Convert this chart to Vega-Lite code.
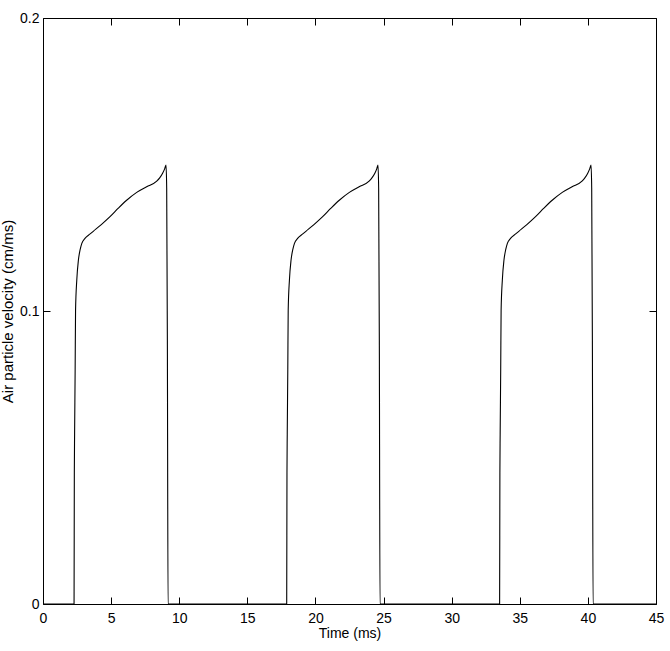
{
  "$schema": "https://vega.github.io/schema/vega-lite/v6.json",
  "width": 613,
  "height": 586,
  "autosize": {"type": "none"},
  "padding": {"left": 43, "top": 18, "right": 14, "bottom": 47},
  "background": "white",
  "config": {
    "view": {"stroke": "black", "strokeWidth": 1},
    "font": "Liberation Sans",
    "axis": {
      "domain": false,
      "tickColor": "black",
      "tickWidth": 1,
      "tickSize": 7,
      "offset": -7,
      "grid": false,
      "labelFont": "Liberation Sans",
      "labelFontSize": 14,
      "labelColor": "black",
      "titleFont": "Liberation Sans",
      "titleFontSize": 14,
      "titleFontWeight": "normal",
      "titleColor": "black"
    }
  },
  "data": {
    "values": [
      {"i": 0, "t": 0, "v": 0},
      {"i": 1, "t": 2.28, "v": 0},
      {"i": 2, "t": 2.30, "v": 0.045},
      {"i": 3, "t": 2.32, "v": 0.058},
      {"i": 4, "t": 2.36, "v": 0.080},
      {"i": 5, "t": 2.39, "v": 0.1003},
      {"i": 6, "t": 2.48, "v": 0.1106},
      {"i": 7, "t": 2.60, "v": 0.1174},
      {"i": 8, "t": 2.73, "v": 0.1210},
      {"i": 9, "t": 2.85, "v": 0.1231},
      {"i": 10, "t": 3.08, "v": 0.1248},
      {"i": 11, "t": 3.46, "v": 0.1263},
      {"i": 12, "t": 3.69, "v": 0.1272},
      {"i": 13, "t": 4.28, "v": 0.1295},
      {"i": 14, "t": 4.92, "v": 0.1322},
      {"i": 15, "t": 5.53, "v": 0.1351},
      {"i": 16, "t": 6.14, "v": 0.1378},
      {"i": 17, "t": 6.88, "v": 0.1405},
      {"i": 18, "t": 7.61, "v": 0.1424},
      {"i": 19, "t": 8.35, "v": 0.1443},
      {"i": 20, "t": 8.58, "v": 0.1455},
      {"i": 21, "t": 8.78, "v": 0.1470},
      {"i": 22, "t": 8.93, "v": 0.1485},
      {"i": 23, "t": 9.03, "v": 0.1498},
      {"i": 24, "t": 9.08, "v": 0.1420},
      {"i": 25, "t": 9.13, "v": 0.0900},
      {"i": 26, "t": 9.18, "v": 0},
      {"i": 27, "t": 17.89, "v": 0},
      {"i": 28, "t": 17.91, "v": 0.045},
      {"i": 29, "t": 17.93, "v": 0.058},
      {"i": 30, "t": 17.97, "v": 0.080},
      {"i": 31, "t": 18.00, "v": 0.1003},
      {"i": 32, "t": 18.09, "v": 0.1106},
      {"i": 33, "t": 18.21, "v": 0.1174},
      {"i": 34, "t": 18.34, "v": 0.1210},
      {"i": 35, "t": 18.46, "v": 0.1231},
      {"i": 36, "t": 18.69, "v": 0.1248},
      {"i": 37, "t": 19.07, "v": 0.1263},
      {"i": 38, "t": 19.30, "v": 0.1272},
      {"i": 39, "t": 19.89, "v": 0.1295},
      {"i": 40, "t": 20.53, "v": 0.1322},
      {"i": 41, "t": 21.14, "v": 0.1351},
      {"i": 42, "t": 21.75, "v": 0.1378},
      {"i": 43, "t": 22.49, "v": 0.1405},
      {"i": 44, "t": 23.21, "v": 0.1424},
      {"i": 45, "t": 23.94, "v": 0.1443},
      {"i": 46, "t": 24.16, "v": 0.1455},
      {"i": 47, "t": 24.36, "v": 0.1470},
      {"i": 48, "t": 24.50, "v": 0.1485},
      {"i": 49, "t": 24.59, "v": 0.1498},
      {"i": 50, "t": 24.64, "v": 0.1420},
      {"i": 51, "t": 24.69, "v": 0.0900},
      {"i": 52, "t": 24.74, "v": 0},
      {"i": 53, "t": 33.52, "v": 0},
      {"i": 54, "t": 33.54, "v": 0.045},
      {"i": 55, "t": 33.56, "v": 0.058},
      {"i": 56, "t": 33.60, "v": 0.080},
      {"i": 57, "t": 33.63, "v": 0.1003},
      {"i": 58, "t": 33.72, "v": 0.1106},
      {"i": 59, "t": 33.84, "v": 0.1174},
      {"i": 60, "t": 33.97, "v": 0.1210},
      {"i": 61, "t": 34.09, "v": 0.1231},
      {"i": 62, "t": 34.32, "v": 0.1248},
      {"i": 63, "t": 34.70, "v": 0.1263},
      {"i": 64, "t": 34.93, "v": 0.1272},
      {"i": 65, "t": 35.52, "v": 0.1295},
      {"i": 66, "t": 36.16, "v": 0.1322},
      {"i": 67, "t": 36.77, "v": 0.1351},
      {"i": 68, "t": 37.38, "v": 0.1378},
      {"i": 69, "t": 38.12, "v": 0.1405},
      {"i": 70, "t": 38.84, "v": 0.1424},
      {"i": 71, "t": 39.57, "v": 0.1443},
      {"i": 72, "t": 39.79, "v": 0.1455},
      {"i": 73, "t": 39.99, "v": 0.1470},
      {"i": 74, "t": 40.13, "v": 0.1485},
      {"i": 75, "t": 40.23, "v": 0.1498},
      {"i": 76, "t": 40.28, "v": 0.1420},
      {"i": 77, "t": 40.33, "v": 0.0900},
      {"i": 78, "t": 40.38, "v": 0},
      {"i": 79, "t": 45, "v": 0}
    ]
  },
  "layer": [
    {
      "mark": {"type": "line", "color": "black", "strokeWidth": 1.1, "interpolate": "monotone", "clip": true},
      "encoding": {
        "x": {
          "field": "t", "type": "quantitative",
          "scale": {"domain": [0, 45], "nice": false, "zero": false},
          "axis": {"orient": "bottom", "values": [0, 5, 10, 15, 20, 25, 30, 35, 40, 45], "labelPadding": 7, "title": "Time (ms)", "titlePadding": 1, "labelFlush": false}
        },
        "y": {
          "field": "v", "type": "quantitative",
          "scale": {"domain": [0, 0.2], "nice": false, "zero": false},
          "axis": {"orient": "left", "values": [0, 0.1, 0.2], "format": "~g", "labelPadding": 4, "title": "Air particle velocity (cm/ms)", "titleFontSize": 15, "titlePadding": 4, "labelFlush": false}
        },
        "order": {"field": "i", "type": "quantitative"}
      }
    },
    {
      "mark": {"type": "point", "opacity": 0},
      "encoding": {
        "x": {
          "field": "t", "type": "quantitative",
          "scale": {"domain": [0, 45], "nice": false, "zero": false},
          "axis": {"orient": "top", "values": [0, 5, 10, 15, 20, 25, 30, 35, 40, 45], "labels": false, "title": null}
        },
        "y": {
          "field": "v", "type": "quantitative",
          "scale": {"domain": [0, 0.2], "nice": false, "zero": false},
          "axis": {"orient": "right", "values": [0, 0.1, 0.2], "labels": false, "title": null}
        }
      }
    }
  ],
  "resolve": {"axis": {"x": "independent", "y": "independent"}}
}
